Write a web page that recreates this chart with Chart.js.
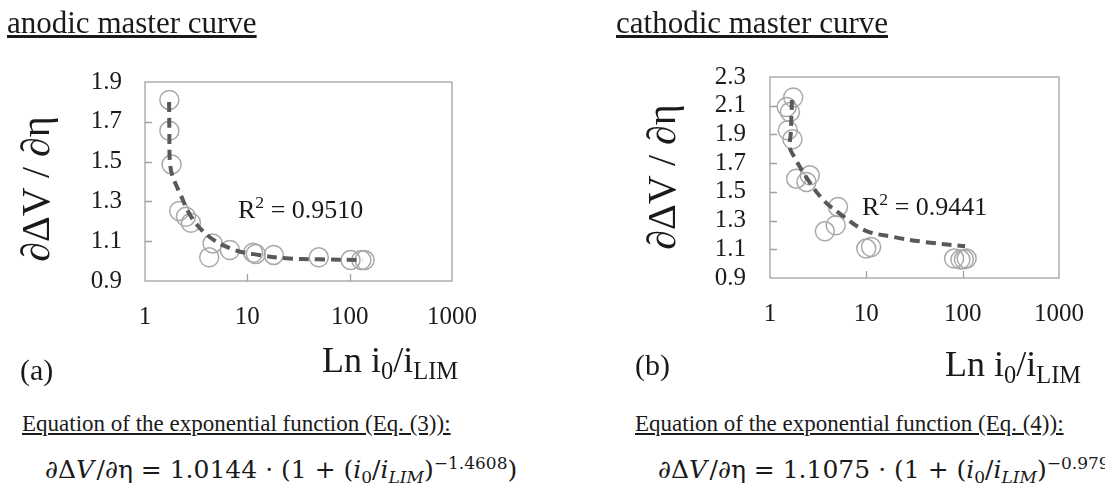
<!DOCTYPE html>
<html>
<head>
<meta charset="utf-8">
<script src="https://cdn.jsdelivr.net/npm/chart.js@4.4.1/dist/chart.umd.min.js"></script>
<style>
html, body { margin: 0; padding: 0; background: #fff; overflow: hidden; }
body { width: 1105px; height: 490px; position: relative; font-family: "Liberation Serif", "DejaVu Serif", serif; color: #1a1a1a; }
.t { position: absolute; line-height: 1; white-space: nowrap; }
.up { position: relative; top: -0.55em; font-size: 0.68em; }
.dn { position: relative; top: 0.3em; font-size: 0.68em; }
.eq { font-family: "DejaVu Serif", serif; font-size: 25px; }
.ytitle { position: absolute; line-height: 1; white-space: nowrap; font-size: 40px; font-family: "Liberation Serif", "DejaVu Serif", serif; transform: translate(-50%, -50%) rotate(-90deg); }
#wrapA { position: absolute; left: 0; top: 0; width: 560px; height: 345px; }
#wrapB { position: absolute; left: 560px; top: 0; width: 545px; height: 345px; }
</style>
</head>
<body>
<div id="wrapA"><canvas id="chartA"></canvas></div>
<div id="wrapB"><canvas id="chartB"></canvas></div>

<div class="t" style="left:7px; top:7px; font-size:31px; text-decoration:underline;">anodic master curve</div>
<div class="t" style="left:616px; top:7px; font-size:31px; text-decoration:underline;">cathodic master curve</div>

<div class="ytitle" style="left:36px; top:189px;">∂ΔV / ∂η</div>
<div class="ytitle" style="left:662px; top:177px;">∂ΔV / ∂η</div>

<div class="t" style="left:238px; top:197px; font-size:26px;">R<span class="up">2</span> = 0.9510</div>
<div class="t" style="left:862px; top:194px; font-size:26px;">R<span class="up">2</span> = 0.9441</div>

<div class="t" style="left:20px; top:355px; font-size:30px;">(a)</div>
<div class="t" style="left:635px; top:350px; font-size:30px;">(b)</div>

<div class="t" style="left:322px; top:342px; font-size:36px;">Ln i<span class="dn">0</span>/i<span class="dn">LIM</span></div>
<div class="t" style="left:945px; top:346px; font-size:36px;">Ln i<span class="dn">0</span>/i<span class="dn">LIM</span></div>

<div class="t" style="left:22px; top:412px; font-size:23px; text-decoration:underline;">Equation of the exponential function (Eq. (3)):</div>
<div class="t" style="left:635px; top:412px; font-size:23px; text-decoration:underline;">Equation of the exponential function (Eq. (4)):</div>

<div class="t eq" style="left:45px; top:457px;">∂Δ<i>V</i>&#8202;/∂η = 1.0144 · (1 + (<i>i</i><span class="dn">0</span>/<i>i</i><span class="dn"><i>LIM</i></span>)<span class="up">−1.4608</span>)</div>
<div class="t eq" style="left:658px; top:457px;">∂Δ<i>V</i>&#8202;/∂η = 1.1075 · (1 + (<i>i</i><span class="dn">0</span>/<i>i</i><span class="dn"><i>LIM</i></span>)<span class="up">−0.9790</span>)</div>

<script>
// x axis (log) tick values shared by both panels
const xTicks = [1, 10, 100, 1000];

// anodic panel
const anodicX = [1.73, 1.73, 1.82, 2.16, 2.51, 2.81, 4.58, 4.24, 6.75, 11.4, 12.1, 18.1, 49.9, 102, 130, 140];
const anodicY = [1.81, 1.655, 1.486, 1.252, 1.223, 1.193, 1.089, 1.019, 1.056, 1.042, 1.036, 1.031, 1.019, 1.005, 1.005, 1.005];
const anodicFitX = [1.72, 1.73, 1.75, 1.85, 2.2, 2.85, 4.3, 7.5, 13, 24, 50, 135];
const anodicFitY = [1.80, 1.65, 1.50, 1.43, 1.34, 1.22, 1.12, 1.056, 1.031, 1.014, 1.009, 1.005];
const anodicYTicks = [0.9, 1.1, 1.3, 1.5, 1.7, 1.9];

// cathodic panel
const cathodicX = [1.74, 1.49, 1.61, 1.53, 1.71, 1.87, 2.59, 2.39, 5.08, 4.81, 3.71, 9.98, 11.2, 81.5, 94.8, 103, 110];
const cathodicY = [2.157, 2.091, 2.056, 1.929, 1.866, 1.592, 1.615, 1.569, 1.395, 1.267, 1.225, 1.105, 1.116, 1.035, 1.028, 1.03, 1.035];
const cathodicFitX = [1.69, 1.67, 1.64, 1.60, 1.78, 2.5, 3.6, 5.3, 9.6, 19, 40, 106];
const cathodicFitY = [2.14, 2.04, 1.90, 1.81, 1.745, 1.58, 1.441, 1.349, 1.232, 1.186, 1.151, 1.121];
const cathodicYTicks = [0.9, 1.1, 1.3, 1.5, 1.7, 1.9, 2.1, 2.3];

const tickFont = { family: "'Liberation Serif', 'Times New Roman', serif", size: 25 };

// full box round the plot area plus short inward tick marks
const framePlugin = {
    id: 'frame',
    beforeDatasetsDraw(chart) {
        const { ctx, chartArea: a, scales } = chart;
        ctx.save();
        ctx.strokeStyle = '#a0a0a0';
        ctx.lineWidth = 1.3;
        ctx.strokeRect(a.left, a.top, a.right - a.left, a.bottom - a.top);
        ctx.beginPath();
        scales.y.ticks.forEach(t => {
            if (t.value <= scales.y.min || t.value >= scales.y.max) return;
            const py = Math.round(scales.y.getPixelForValue(t.value)) + 0.5;
            ctx.moveTo(a.left, py);
            ctx.lineTo(a.left + 7, py);
        });
        scales.x.ticks.forEach(t => {
            if (t.value <= scales.x.min || t.value >= scales.x.max) return;
            const px = Math.round(scales.x.getPixelForValue(t.value)) + 0.5;
            ctx.moveTo(px, a.bottom);
            ctx.lineTo(px, a.bottom - 7);
        });
        ctx.stroke();
        ctx.restore();
    }
};

function toPoints(xs, ys) {
    return xs.map((x, i) => ({ x: x, y: ys[i] }));
}

function makeChart(id, xs, ys, fitX, fitY, yTicks, box) {
    const ctx = document.getElementById(id);
    return new Chart(ctx, {
        type: 'scatter',
        data: {
            datasets: [{
                data: toPoints(fitX, fitY),
                showLine: true,
                borderColor: '#595959',
                borderWidth: 4,
                borderDash: [10, 6],
                pointRadius: 0,
                tension: 0.35,
                fill: false,
                order: 0
            }, {
                data: toPoints(xs, ys),
                borderColor: '#a9a9a9',
                backgroundColor: 'rgba(0,0,0,0)',
                borderWidth: 1.5,
                pointRadius: 9.5,
                order: 1
            }]
        },
        options: {
            responsive: true,
            maintainAspectRatio: false,
            animation: false,
            events: [],
            layout: {
                padding: { left: 0, top: box.top, right: box.right, bottom: box.bottom }
            },
            plugins: {
                legend: { display: false },
                tooltip: { enabled: false }
            },
            scales: {
                x: {
                    type: 'logarithmic',
                    min: xTicks[0],
                    max: xTicks[xTicks.length - 1],
                    border: { display: false },
                    grid: { display: false, drawTicks: false },
                    afterBuildTicks: s => { s.ticks = xTicks.map(v => ({ value: v })); },
                    afterFit: s => { s.height = 52; },
                    ticks: {
                        color: '#1a1a1a',
                        font: tickFont,
                        padding: 21,
                        maxRotation: 0,
                        autoSkip: false,
                        callback: v => String(v)
                    }
                },
                y: {
                    min: yTicks[0],
                    max: yTicks[yTicks.length - 1],
                    border: { display: false },
                    grid: { display: false, drawTicks: false },
                    afterBuildTicks: s => { s.ticks = yTicks.map(v => ({ value: v })); },
                    afterFit: s => { s.width = box.yWidth; },
                    ticks: {
                        color: '#1a1a1a',
                        font: tickFont,
                        padding: box.yPad,
                        autoSkip: false,
                        callback: v => v.toFixed(1)
                    }
                }
            }
        },
        plugins: [framePlugin]
    });
}

makeChart('chartA', anodicX, anodicY, anodicFitX, anodicFitY, anodicYTicks,
    { top: 82, right: 108, bottom: 12, yWidth: 145, yPad: 23 });
makeChart('chartB', cathodicX, cathodicY, cathodicFitX, cathodicFitY, cathodicYTicks,
    { top: 77, right: 28, bottom: 15, yWidth: 210, yPad: 24 });
</script>
</body>
</html>
